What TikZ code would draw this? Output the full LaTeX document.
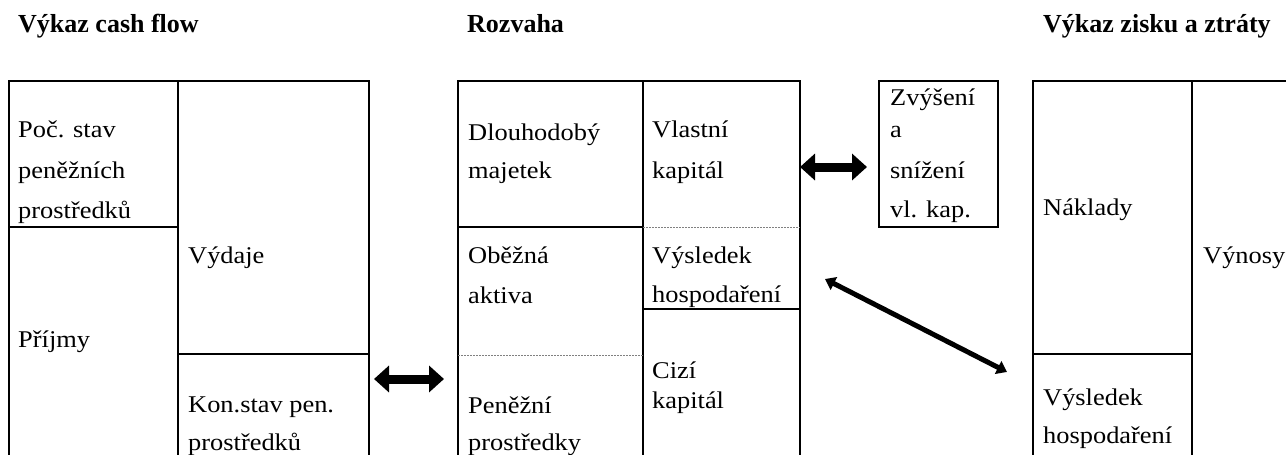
\documentclass[tikz,border=0pt]{standalone}
\usepackage{fontspec}
\setmainfont{Liberation Serif}
\newfontfamily\bodyfnt{Liberation Serif}[FakeStretch=1.1]
\usetikzlibrary{arrows.meta}
\newcommand\txtline[4]{\node[txt] (#1) at (#2,#3) {#4};}
\newcommand\ttlline[4]{\node[ttl] (#1) at (#2,#3) {#4};}
\begin{document}
\begin{tikzpicture}[x=1pt,y=-1pt,
  txt/.style={anchor=base west,inner sep=0pt,font=\bodyfnt\fontsize{24}{40}\selectfont},
  ttl/.style={anchor=base west,inner sep=0pt,font=\bfseries\fontsize{26}{30}\selectfont},
  boxline/.style={line width=2.1pt,line cap=rect},
  dotline/.style={line width=0.8pt,gray,dash pattern=on 2pt off 1pt},
  fatarrow/.style={line width=9pt,{Triangle[length=15pt,width=26pt]}-{Triangle[length=15pt,width=26pt]}},
  thinarrow/.style={line width=5pt,{Triangle[length=10pt,width=14pt]}-{Triangle[length=10pt,width=14pt]}}
]
\useasboundingbox (0,0) rectangle (1286,455);
\clip (0,0) rectangle (1286,455);
% titles
\ttlline{t1}{18}{32}{Výkaz cash flow}
\ttlline{t2}{467}{32}{Rozvaha}
\ttlline{t3}{1043}{32}{Výkaz zisku a ztráty}
% cash flow box
\draw[boxline] (9,470) -- (9,81) -- (369,81) -- (369,470);
\draw[boxline] (178,81) -- (178,470);
\draw[boxline] (9,227) -- (178,227);
\draw[boxline] (178,354) -- (369,354);
% balance box
\draw[boxline] (458,470) -- (458,81) -- (800,81) -- (800,470);
\draw[boxline] (643,81) -- (643,470);
\draw[boxline] (458,227) -- (643,227);
\draw[dotline] (458,355) -- (643,355);
\draw[dotline] (643,227) -- (800,227);
\draw[boxline] (643,309) -- (800,309);
% Zvyseni box
\draw[boxline] (879,81) rectangle (998,227);
% P&L box
\draw[boxline] (1033,470) -- (1033,81) -- (1300,81);
\draw[boxline] (1192,81) -- (1192,470);
\draw[boxline] (1033,354) -- (1192,354);
% cash flow texts
\txtline{c1}{18}{137}{Poč. stav}
\txtline{c2}{18}{178}{peněžních}
\txtline{c3}{18}{218}{prostředků}
\txtline{c4}{18}{347}{Příjmy}
\txtline{c5}{188}{263}{Výdaje}
\txtline{c6}{188}{412}{Kon.stav pen.}
\txtline{c7}{188}{450}{prostředků}
% balance texts
\txtline{b1}{468}{140}{Dlouhodobý}
\txtline{b2}{468}{178}{majetek}
\txtline{b3}{468}{263}{Oběžná}
\txtline{b4}{468}{303}{aktiva}
\txtline{b5}{468}{413}{Peněžní}
\txtline{b6}{468}{450}{prostředky}
\txtline{b7}{652}{137}{Vlastní}
\txtline{b8}{652}{178}{kapitál}
\txtline{b9}{652}{263}{Výsledek}
\txtline{b10}{652}{302}{hospodaření}
\txtline{b11}{652}{378}{Cizí}
\txtline{b12}{652}{408}{kapitál}
% Zvyseni texts
\txtline{z1}{890}{105}{Zvýšení}
\txtline{z2}{890}{137}{a}
\txtline{z3}{890}{178}{snížení}
\txtline{z4}{890}{217}{vl. kap.}
% P&L texts
\txtline{p1}{1043}{215}{Náklady}
\txtline{p2}{1203}{263}{Výnosy}
\txtline{p3}{1043}{405}{Výsledek}
\txtline{p4}{1043}{443}{hospodaření}
% arrows
\coordinate (a1s) at (374,379);
\coordinate (a1e) at (444,379);
\coordinate (a2s) at (800,167);
\coordinate (a2e) at (867,167);
\coordinate (a3s) at (825,279);
\coordinate (a3e) at (1007,372);
\draw[fatarrow] (a1s) -- (a1e);
\draw[fatarrow] (a2s) -- (a2e);
\draw[thinarrow] (a3s) -- (a3e);
\end{tikzpicture}
\end{document}
